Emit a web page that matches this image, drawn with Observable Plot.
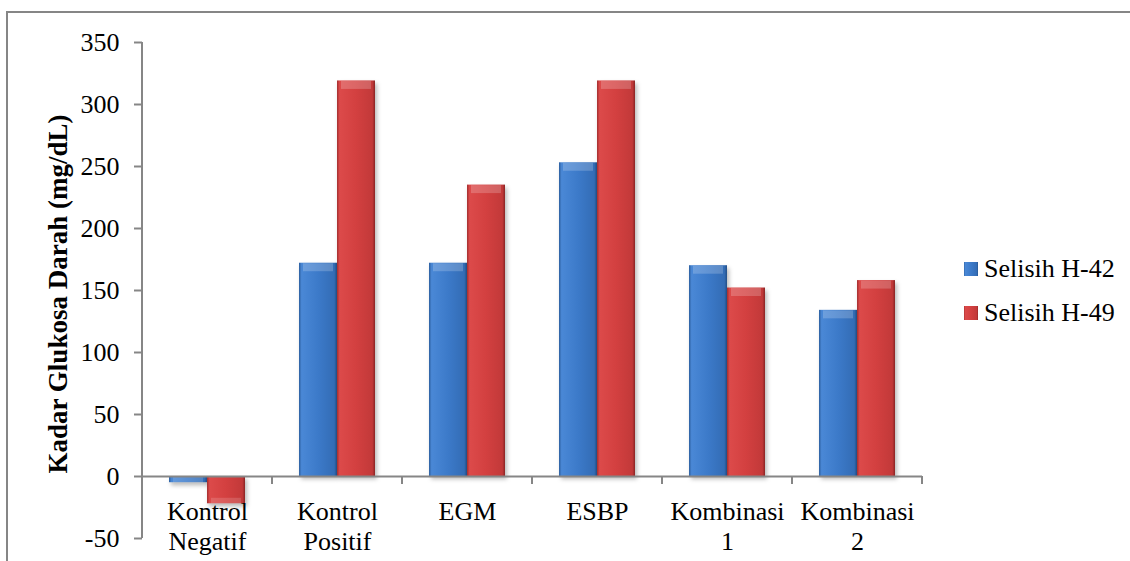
<!DOCTYPE html>
<html><head><meta charset="utf-8">
<script src="https://cdn.jsdelivr.net/npm/d3@7"></script>
<script src="https://cdn.jsdelivr.net/npm/@observablehq/plot@0.6"></script>
<style>
html,body{margin:0;padding:0;background:#fff;}
#chart{position:relative;width:1130px;height:561px;overflow:hidden;}
#chart svg, #chart svg text, #chart svg tspan{font-family:'Liberation Serif','Times New Roman',serif !important;}
#chart svg text.legend-label{text-anchor:start;}
</style></head><body><div id="chart"></div>
<script>
const categories = ["Kontrol Negatif","Kontrol Positif","EGM","ESBP","Kombinasi 1","Kombinasi 2"];
const categoryLabels = ["Kontrol\nNegatif","Kontrol\nPositif","EGM","ESBP","Kombinasi\n1","Kombinasi\n2"];
const seriesNames = ["Selisih H-42","Selisih H-49"];
const h42 = [-5, 172, 172, 253, 170, 134];
const h49 = [-22, 319, 235, 319, 152, 158];
const yTicks = [-50, 0, 50, 100, 150, 200, 250, 300, 350];
const yTitle = "Kadar Glukosa Darah (mg/dL)";
const seriesFills = ["url(#gBlue)", "url(#gRed)"];

const data = categories.flatMap((c, i) => [
  {category: c, series: seriesNames[0], value: h42[i]},
  {category: c, series: seriesNames[1], value: h49[i]}
]);
const labelOf = new Map(categories.map((c, i) => [c, categoryLabels[i]]));

const FONT = "'Liberation Serif','Times New Roman',serif";
const AXIS = "#868686";

const chart = Plot.plot({
  width: 1130, height: 561,
  marginLeft: 142, marginRight: 208, marginTop: 42, marginBottom: 23,
  style: {fontFamily: FONT, fontSize: "26px", background: "transparent", color: "#000"},
  fx: {domain: categories, padding: 0, axis: null, label: null},
  x: {domain: seriesNames, axis: null, paddingInner: 0, paddingOuter: 0.69},
  y: {domain: [-50, 350], axis: null},
  color: {domain: seriesNames, range: seriesFills},
  marks: [
    Plot.barY(data, {fx: "category", x: "series", y: "value", fill: "series"}),
    // bevel highlight at the bar ends
    Plot.tickY(data.filter(d => d.value > 0), {fx: "category", x: "series", y: "value", stroke: "#fff", strokeOpacity: 0.2, strokeWidth: 8, dy: 4, insetLeft: 4, insetRight: 4}),
    Plot.tickY(data.filter(d => d.value < 0), {fx: "category", x: "series", y: "value", stroke: "#fff", strokeOpacity: 0.15, strokeWidth: 6, dy: -3, insetLeft: 4, insetRight: 4}),
    Plot.ruleY([0], {stroke: AXIS, strokeWidth: 2}),
    Plot.axisY({ticks: yTicks, tickSize: 8, tickPadding: 15, stroke: AXIS, strokeWidth: 2, fill: "#000", label: null, fontSize: 26, tickFormat: d => String(d)}),
    Plot.text(categories, {fx: d => d, y: () => 0, text: d => labelOf.get(d), fontSize: 26, lineAnchor: "top", dy: 22, lineHeight: 1.15, fill: "#000"})
  ]
});
document.getElementById("chart").appendChild(chart);

const svg = d3.select(chart);
const defs = svg.insert("defs", ":first-child");
function grad(id, stops) {
  const g = defs.append("linearGradient").attr("id", id).attr("x1", 0).attr("x2", 1).attr("y1", 0).attr("y2", 0);
  stops.forEach(([o, c]) => g.append("stop").attr("offset", o).attr("stop-color", c));
}
grad("gBlue", [[0, "#2c5f9f"], [0.07, "#4a88d6"], [0.5, "#3c7ac9"], [0.93, "#336cb5"], [1, "#234f87"]]);
grad("gRed", [[0, "#a32e2e"], [0.07, "#dc4a4a"], [0.5, "#d34040"], [0.93, "#c23939"], [1, "#8a2424"]]);

svg.selectAll("g[aria-label='bar'] rect").style("filter", "drop-shadow(2px 3px 2px rgba(0,0,0,0.28))");

// axis domain line and category boundary ticks, from Plot's own scales
const ys = chart.scale("y");
const fxs = chart.scale("fx");
const y0 = ys.apply(0);
const yTop = ys.apply(350), yBot = ys.apply(-50);
const xs = categories.map(c => fxs.apply(c));
const step = xs[1] - xs[0];
xs.push(xs[xs.length - 1] + step);
const ga = svg.append("g").attr("stroke", AXIS).attr("stroke-width", 2);
ga.append("line").attr("x1", xs[0]).attr("x2", xs[0]).attr("y1", yTop).attr("y2", yBot);
xs.forEach(x => ga.append("line").attr("x1", x).attr("x2", x).attr("y1", y0).attr("y2", y0 + 8));

// outer border
svg.append("rect").attr("x", 7).attr("y", 12).attr("width", 1200).attr("height", 700)
  .attr("fill", "none").attr("stroke", AXIS).attr("stroke-width", 2);

// y title
svg.append("text").attr("transform", `translate(58,${(yTop + yBot) / 2 + 4}) rotate(-90)`)
  .attr("text-anchor", "middle").attr("dominant-baseline", "central")
  .attr("font-weight", "bold").attr("font-size", 27).attr("fill", "#000")
  .text(yTitle);

// legend
const lg = svg.append("g").attr("font-size", 26).attr("fill", "#000").attr("text-anchor", "start");
seriesNames.forEach((s, i) => {
  const cy = 269 + i * 44;
  lg.append("rect").attr("x", 964).attr("y", cy - 7).attr("width", 14).attr("height", 14).attr("fill", seriesFills[i]);
  lg.append("text").attr("class", "legend-label").attr("x", 984).attr("y", cy + 8).attr("text-anchor", "start").text(s);
});
</script></body></html>
